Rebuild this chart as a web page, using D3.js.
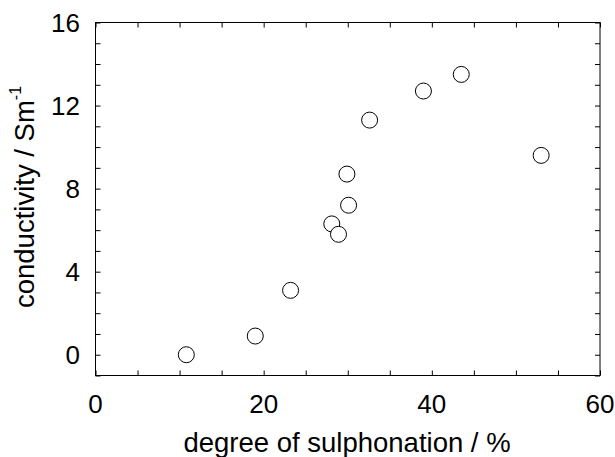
<!DOCTYPE html>
<html>
<head>
<meta charset="utf-8">
<title>conductivity vs sulphonation</title>
<script src="https://d3js.org/d3.v7.min.js"></script>
<style>
  body { margin: 0; background: #fff; }
  text { font-family: "Liberation Sans", Arial, sans-serif; fill: #000; }
</style>
</head>
<body>
<svg id="chart" width="615" height="457"></svg>
<script>
// degree of sulphonation (%) and conductivity (S/m)
const sulphonation = [10.8, 19.0, 23.2, 28.1, 28.9, 30.1, 29.9, 32.6, 39.0, 43.5, 53.0];
const conductivity = [0.0, 0.9, 3.1, 6.3, 5.8, 7.2, 8.7, 11.3, 12.7, 13.5, 9.6];
const xTickLabels = [0, 20, 40, 60];
const yTickLabels = [0, 4, 8, 12, 16];

const svg = d3.select("#chart");
const plotLeft = 95.5, plotRight = 600, plotTop = 22.5, plotBottom = 375.5;

const x = d3.scaleLinear().domain([0, 60]).range([plotLeft, plotRight]);
const y = d3.scaleLinear().domain([-1, 16]).range([plotBottom, plotTop]);

const xMinor = d3.range(0, 61, 5);
const yMinor = d3.range(-1, 17, 1);

// frame
svg.append("rect")
  .attr("x", plotLeft).attr("y", plotTop)
  .attr("width", plotRight - plotLeft).attr("height", plotBottom - plotTop)
  .attr("fill", "none").attr("stroke", "#000").attr("stroke-width", 1);

// inward ticks on all four sides
const tickLen = 5;
const bottomAxis = d3.axisBottom(x).tickValues(xMinor).tickSize(-tickLen).tickFormat("");
const topAxis = d3.axisTop(x).tickValues(xMinor).tickSize(-tickLen).tickFormat("");
const leftAxis = d3.axisLeft(y).tickValues(yMinor).tickSize(-tickLen).tickFormat("");
const rightAxis = d3.axisRight(y).tickValues(yMinor).tickSize(-tickLen).tickFormat("");

function drawAxis(axis, tx, ty) {
  const g = svg.append("g").attr("transform", `translate(${tx},${ty})`).call(axis);
  g.select(".domain").remove();
  g.selectAll("line").attr("stroke", "#000");
}
drawAxis(bottomAxis, 0, plotBottom);
drawAxis(topAxis, 0, plotTop);
drawAxis(leftAxis, plotLeft, 0);
drawAxis(rightAxis, plotRight, 0);

// tick labels
svg.selectAll(".xlab").data(xTickLabels).join("text")
  .attr("class", "xlab")
  .attr("x", d => x(d)).attr("y", 413)
  .attr("text-anchor", "middle")
  .attr("font-size", 26)
  .text(d => d);

svg.selectAll(".ylab").data(yTickLabels).join("text")
  .attr("class", "ylab")
  .attr("x", 80).attr("y", d => y(d) + 9.5)
  .attr("text-anchor", "end")
  .attr("font-size", 26)
  .text(d => d);

// axis titles
svg.append("text")
  .attr("x", 347).attr("y", 452)
  .attr("text-anchor", "middle")
  .attr("font-size", 27.5)
  .text("degree of sulphonation / %");

const yt = svg.append("text")
  .attr("transform", "translate(34,197) rotate(-90)")
  .attr("text-anchor", "middle")
  .attr("font-size", 27.5);
yt.append("tspan").text("conductivity / Sm");
yt.append("tspan").attr("dy", -13).attr("font-size", 16).text("-1");

// points
svg.selectAll(".pt").data(sulphonation.map((s, i) => [s, conductivity[i]])).join("circle")
  .attr("class", "pt")
  .attr("cx", d => x(d[0])).attr("cy", d => y(d[1]))
  .attr("r", 8)
  .attr("fill", "#fff")
  .attr("stroke", "#000")
  .attr("stroke-width", 1);
</script>
</body>
</html>
